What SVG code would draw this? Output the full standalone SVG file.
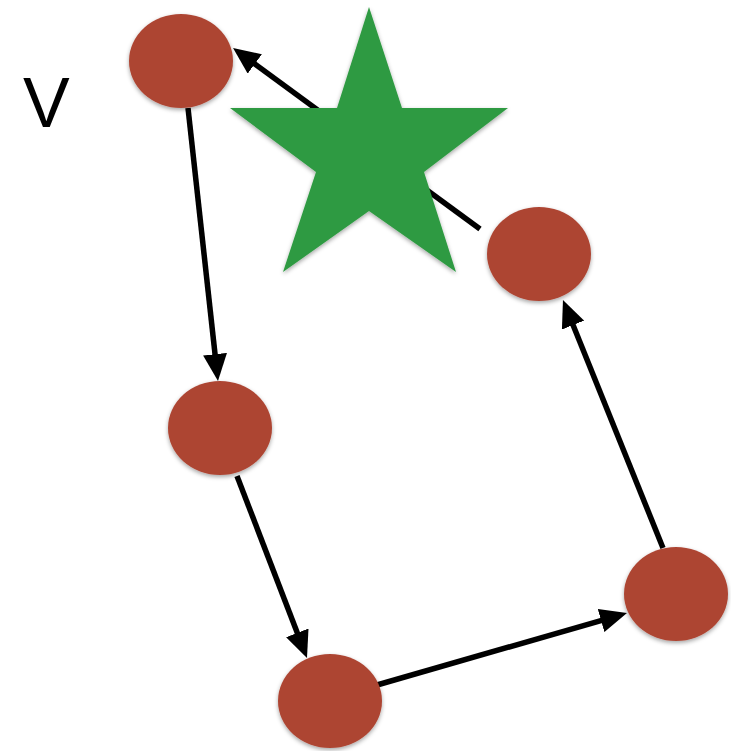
<svg xmlns="http://www.w3.org/2000/svg" width="731" height="751" viewBox="0 0 731 751">
  <style>
    .node { fill: #ad4533; filter: url(#shadow); }
    .edge { fill: none; stroke: #000; stroke-width: 5.5; marker-end: url(#arrow); }
    .label { font-family: "Liberation Sans", Arial, sans-serif; font-size: 70px; fill: #000; }
    .star { fill: #2f9a42; filter: url(#shadow); }
  </style>
  <defs>
    <marker id="arrow" viewBox="0 0 27 24" refX="17" refY="12" markerWidth="27" markerHeight="24" markerUnits="userSpaceOnUse" orient="auto">
      <path d="M0,0 L27,12 L0,24 z" fill="#000"/>
    </marker>
    <filter id="shadow" x="-20%" y="-20%" width="140%" height="150%">
      <feDropShadow dx="0" dy="2" stdDeviation="2" flood-color="#000" flood-opacity="0.35"/>
    </filter>
  </defs>

  <rect width="731" height="751" fill="#fff"/>

  <text class="label" x="23" y="127">V</text>

  <g id="connectors">
    <path class="edge" d="M188,108 L216.9,371.1"/>
    <path class="edge" d="M237,476 L303.4,648.7"/>
    <path class="edge" d="M377,685 L617.4,615.8"/>
    <path class="edge" d="M663,548 L566.7,309.3"/>
    <path class="edge" d="M480,229 L241.1,53.9"/>
  </g>

  <g id="node-v"><ellipse class="node" cx="181" cy="61" rx="52" ry="47"/></g>
  <g id="node-2"><ellipse class="node" cx="220" cy="428" rx="52" ry="47"/></g>
  <g id="node-3"><ellipse class="node" cx="330" cy="701" rx="52" ry="47"/></g>
  <g id="node-4"><ellipse class="node" cx="676" cy="594" rx="52" ry="47"/></g>
  <g id="node-5"><ellipse class="node" cx="539" cy="254" rx="52" ry="47"/></g>

  <g id="star">
    <polygon class="star" points="369,7 402,108 508,108 424,172 456,272 369,211 283,272 316,172 230,108 337,108"/>
  </g>
</svg>
